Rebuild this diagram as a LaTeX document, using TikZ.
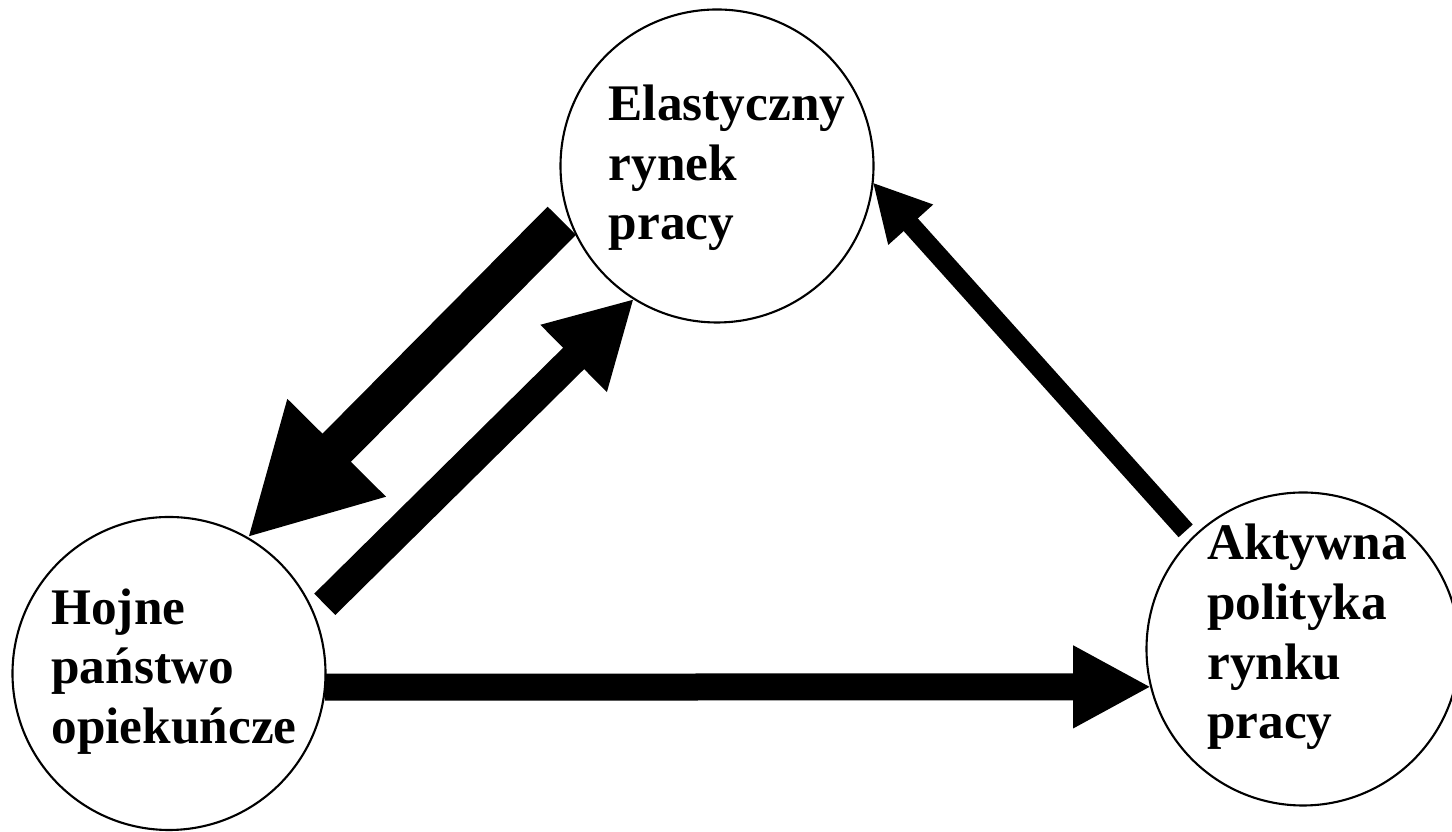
\documentclass[tikz,border=0pt]{standalone}
\usepackage{fontspec}
\setmainfont{Liberation Serif}
\usetikzlibrary{arrows.meta,calc}
\begin{document}
\begin{tikzpicture}[
  x=1cm,y=1cm,
  ring/.style={circle, draw=black, line width=0.6pt, minimum size=3.13cm, inner sep=0pt, outer sep=0pt},
  lbl/.style={align=left, font=\fontsize{14.6}{17}\selectfont\bfseries, inner sep=0pt},
  flow/.style={draw=black, line cap=butt}
]
\useasboundingbox (0,0) rectangle (14.52,8.32);
\node[ring] (el) at (7.17,6.66) {};
\node[ring] (ho) at (1.69,1.585) {};
\node[ring] (ak) at (13.03,1.83) {};
\node[lbl] (elt) at ($(el)+(0.10,-0.02)$) {Elastyczny\\rynek\\pracy};
\node[lbl] (hot) at ($(ho)+(0.05,0.02)$) {Hojne\\państwo\\opiekuńcze};
\node[lbl] (akt) at ($(ak)+(0.04,0.12)$) {Aktywna\\polityka\\rynku\\pracy};
\draw[flow, line width=0.40cm, -{Triangle[length=1.27cm,width=1.29cm]}, shorten <=0.09cm] (el.198.5) -- (ho.60.6);
\draw[flow, line width=0.30cm, -{Triangle[length=0.85cm,width=0.88cm]}, shorten <=0.15cm] (ho.22.4) -- (el.238.9);
\draw[flow, line width=0.19cm, -{Triangle[length=0.57cm,width=0.56cm]}, shorten <=0.10cm] (ak.135) -- (el.-6);
\draw[flow, line width=0.27cm, -{Triangle[length=0.78cm,width=0.77cm]}] (ho.-5) -- (ak.194.1);
\end{tikzpicture}
\end{document}
